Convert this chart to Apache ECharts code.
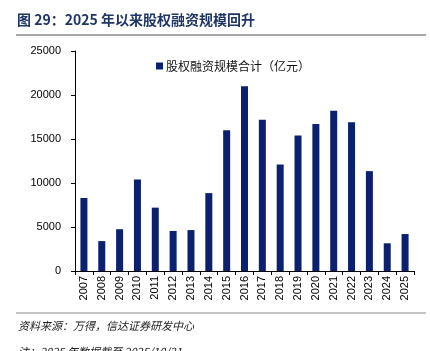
<!DOCTYPE html>
<html>
<head>
<meta charset="utf-8">
<script src="https://cdn.jsdelivr.net/npm/echarts@6/dist/echarts.min.js"></script>
<style>
  html, body { margin: 0; padding: 0; background: #fff; }
  #chart { width: 430px; height: 351px; }
</style>
</head>
<body>
<div id="chart"></div>
<script>
// years and yearly equity financing totals (100M CNY)
const years = ["2007", "2008", "2009", "2010", "2011", "2012", "2013", "2014", "2015", "2016",
  "2017", "2018", "2019", "2020", "2021", "2022", "2023", "2024", "2025"];
const equityTotal = [8300, 3400, 4750, 10400, 7200, 4550, 4650, 8850, 16000, 21000,
  17200, 12100, 15400, 16700, 18200, 16900, 11350, 3150, 4200];
const seriesName = "股权融资规模合计（亿元）";

const chart = echarts.init(document.getElementById("chart"));

chart.setOption({
  animation: false,
  backgroundColor: "#fff",
  grid: { left: 75, right: 16, top: 51, bottom: 80 },
  legend: {
    left: 151,
    top: 55,
    itemWidth: 7,
    itemHeight: 7,
    itemGap: 4,
    icon: "rect",
    textStyle: { fontFamily: "Noto Sans CJK SC", fontSize: 12, color: "#111", padding: [0, 0, 0, -2] },
    data: [seriesName]
  },
  xAxis: {
    type: "category",
    data: years,
    boundaryGap: true,
    axisLine: { lineStyle: { color: "#000", width: 1 } },
    axisTick: { show: true, length: 4, lineStyle: { color: "#000" } },
    axisLabel: {
      rotate: 90,
      color: "#000",
      fontFamily: "Liberation Sans",
      fontSize: 11,
      margin: 5
    },
    splitLine: { show: false }
  },
  yAxis: {
    type: "value",
    min: 0,
    max: 25000,
    interval: 5000,
    axisLine: { show: true, lineStyle: { color: "#000", width: 1 } },
    axisTick: { show: true, length: 4, lineStyle: { color: "#000" } },
    axisLabel: {
      color: "#000",
      fontFamily: "Liberation Sans",
      fontSize: 11,
      margin: 14,
      formatter: v => String(v)
    },
    splitLine: { show: false }
  },
  series: [
    {
      name: seriesName,
      type: "bar",
      data: equityTotal,
      barWidth: 7,
      itemStyle: { color: "#0c2070" }
    }
  ],
  graphic: [
    {
      type: "text",
      left: 17,
      top: 13,
      style: {
        text: "图 29：2025 年以来股权融资规模回升",
        fontFamily: "Noto Sans CJK SC",
        fontSize: 14,
        fontWeight: "bold",
        fill: "#1f3565"
      }
    },
    {
      type: "line",
      shape: { x1: 16, y1: 35, x2: 426, y2: 35 },
      style: { stroke: "#8a8a8a", lineWidth: 1.5 }
    },
    {
      type: "line",
      shape: { x1: 16, y1: 313, x2: 426, y2: 313 },
      style: { stroke: "#8a8a8a", lineWidth: 1 }
    },
    {
      type: "text",
      left: 18,
      top: 320,
      style: {
        text: "资料来源：万得，信达证券研发中心",
        fontFamily: "Noto Sans CJK SC",
        fontSize: 11,
        fontStyle: "italic",
        fill: "#222"
      }
    },
    {
      type: "text",
      left: 18,
      top: 346,
      style: {
        text: "注：2025 年数据截至 2025/10/31",
        fontFamily: "Noto Sans CJK SC",
        fontSize: 11,
        fontStyle: "italic",
        fill: "#222"
      }
    }
  ]
});
</script>
</body>
</html>
